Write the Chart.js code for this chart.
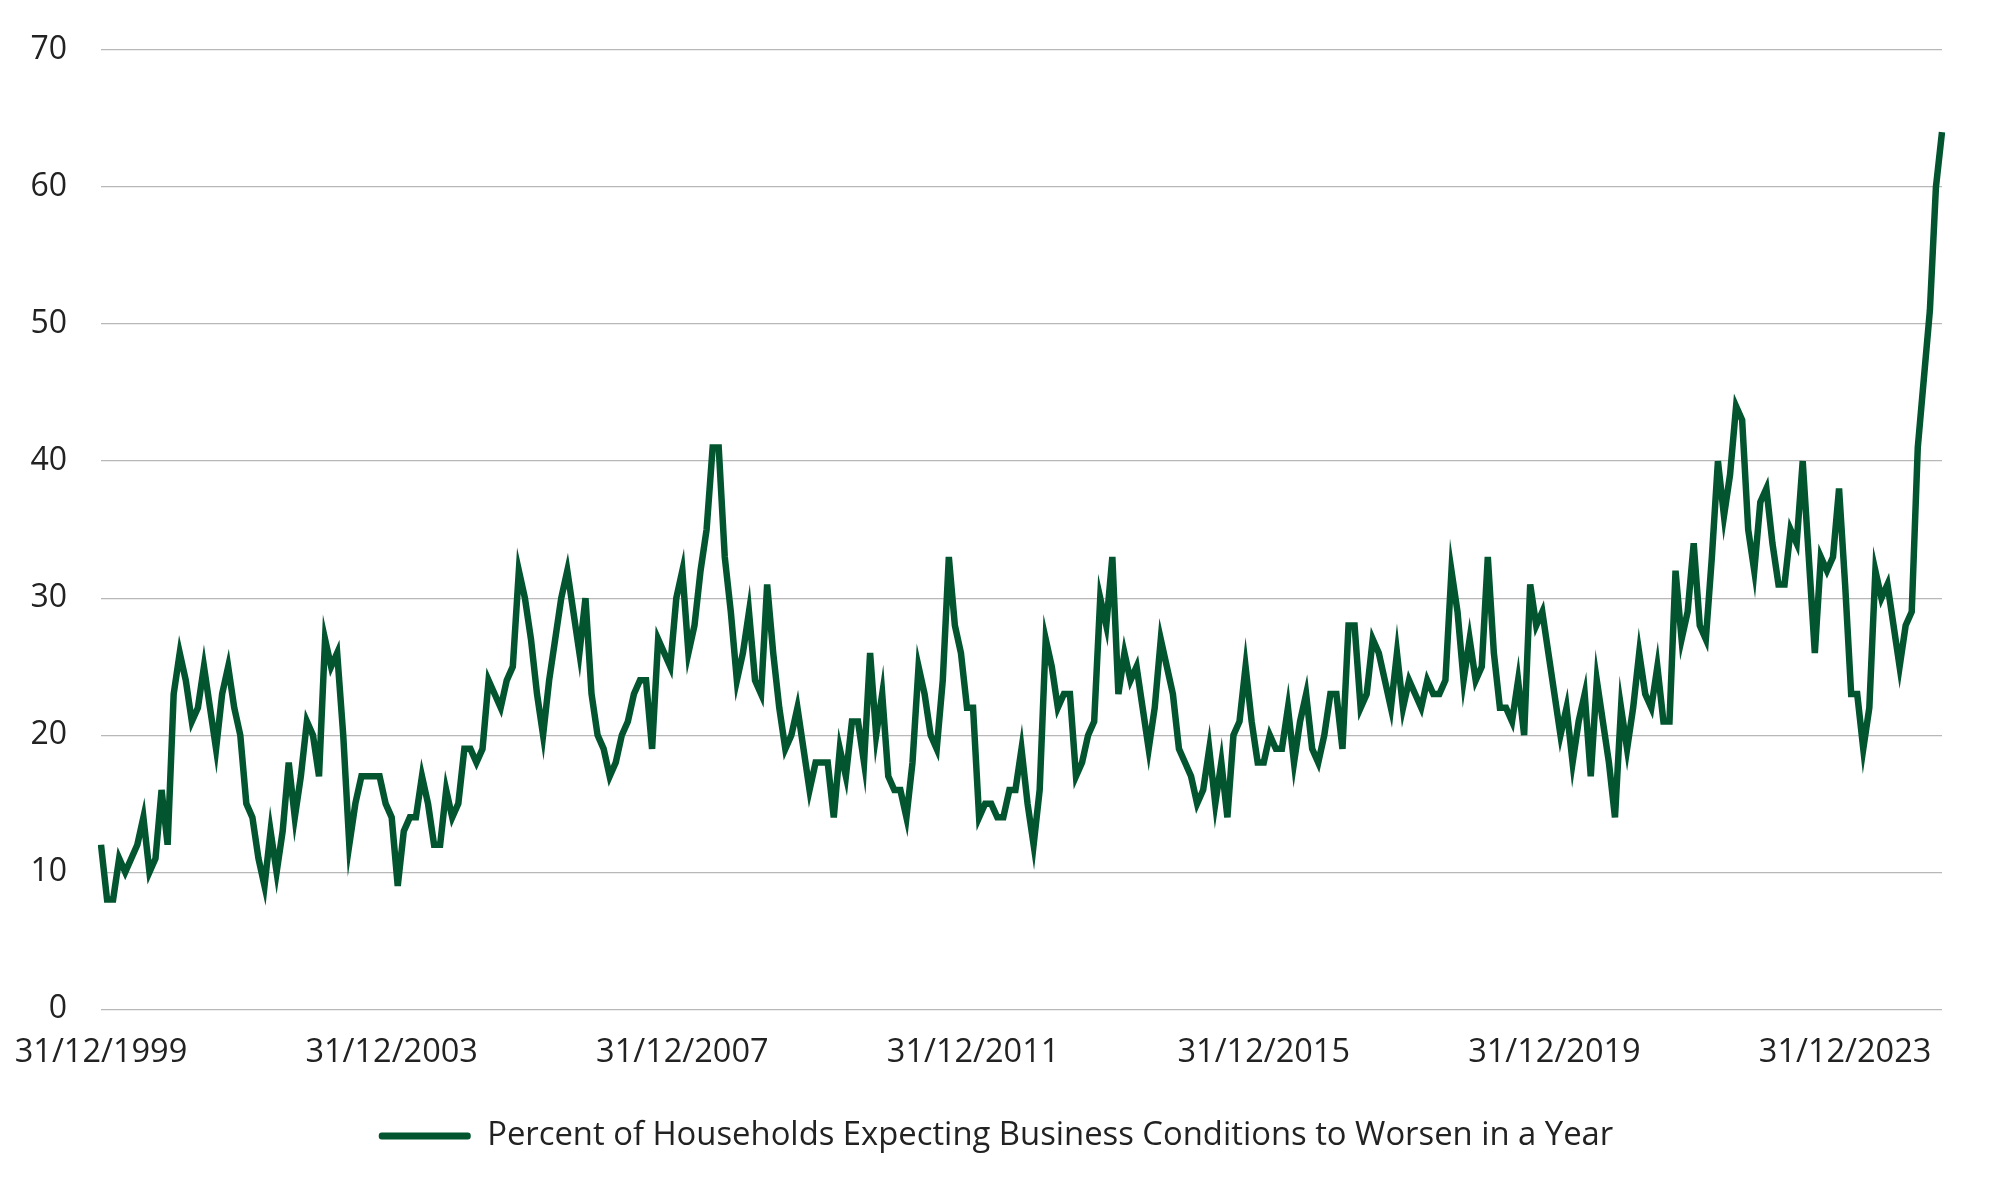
<!DOCTYPE html>
<html>
<head>
<meta charset="utf-8">
<title>Households expecting business conditions to worsen</title>
<script src="https://cdn.jsdelivr.net/npm/chart.js@4.4.1/dist/chart.umd.min.js"></script>
<style>
  html, body { margin: 0; padding: 0; background: #ffffff; }
  #wrap { width: 1992px; height: 1199px; }
</style>
</head>
<body>
<div id="wrap"><canvas id="chart"></canvas></div>
<script>
const seriesName = "Percent of Households Expecting Business Conditions to Worsen in a Year"

// monthly, month-end dates starting 31/12/1999
const startYear = 1999
const startMonth = 11

const worsen = [
  12,
  8, 8, 11, 10, 11, 12, 14, 10, 11, 16, 12, 23,
  26, 24, 21, 22, 25, 22, 19, 23, 25, 22, 20, 15,
  14, 11, 9, 13, 10, 13, 18, 14, 17, 21, 20, 17,
  27, 25, 26, 20, 12, 15, 17, 17, 17, 17, 15, 14,
  9, 13, 14, 14, 17, 15, 12, 12, 16, 14, 15, 19,
  19, 18, 19, 24, 23, 22, 24, 25, 32, 30, 27, 23,
  20, 24, 27, 30, 32, 29, 26, 30, 23, 20, 19, 17,
  18, 20, 21, 23, 24, 24, 19, 27, 26, 25, 30, 32,
  26, 28, 32, 35, 41, 41, 33, 29, 24, 26, 29, 24,
  23, 31, 26, 22, 19, 20, 22, 19, 16, 18, 18, 18,
  14, 19, 17, 21, 21, 18, 26, 20, 23, 17, 16, 16,
  14, 18, 25, 23, 20, 19, 24, 33, 28, 26, 22, 22,
  14, 15, 15, 14, 14, 16, 16, 19, 15, 12, 16, 27,
  25, 22, 23, 23, 17, 18, 20, 21, 30, 28, 33, 23,
  26, 24, 25, 22, 19, 22, 27, 25, 23, 19, 18, 17,
  15, 16, 19, 15, 18, 14, 20, 21, 25, 21, 18, 18,
  20, 19, 19, 22, 18, 21, 23, 19, 18, 20, 23, 23,
  19, 28, 28, 22, 23, 27, 26, 24, 22, 26, 22, 24,
  23, 22, 24, 23, 23, 24, 32, 29, 24, 27, 24, 25,
  33, 26, 22, 22, 21, 24, 20, 31, 28, 29, 26, 23,
  20, 22, 18, 21, 23, 17, 24, 21, 18, 14, 22, 19,
  22, 26, 23, 22, 25, 21, 21, 32, 27, 29, 34, 28,
  27, 33, 40, 36, 39, 44, 43, 35, 32, 37, 38, 34,
  31, 31, 35, 34, 40, 33, 26, 33, 32, 33, 38, 31,
  23, 23, 19, 22, 32, 30, 31, 28, 25, 28, 29, 41,
  46, 51, 60, 64
]

const tickLabels = ["31/12/1999", "31/12/2003", "31/12/2007", "31/12/2011", "31/12/2015", "31/12/2019", "31/12/2023"]

const yMin = 0
const yMax = 70
const yStep = 10

const pad2 = function (n) { return (n < 10 ? "0" : "") + n }

const months = worsen.map(function (v, i) {
     const d = new Date(startYear, startMonth + i + 1, 0)
     return pad2(d.getDate()) + "/" + pad2(d.getMonth() + 1) + "/" + d.getFullYear()
})

const green = "#02552f"
const textColor = "#222222"
const family = "'Open Sans', 'Noto Sans', sans-serif"

const canvas = document.getElementById("chart")

new Chart(canvas, {
     type: "line",
     data: {
          labels: months,
          datasets: [{
               label: seriesName,
               data: worsen,
               borderColor: green,
               backgroundColor: green,
               borderWidth: 6.5,
               pointRadius: 0,
               tension: 0,
               fill: false
          }]
     },
     options: {
          responsive: true,
          maintainAspectRatio: false,
          animation: false,
          layout: { padding: { top: 50, right: 0, left: 0, bottom: 36.5 } },
          plugins: {
               tooltip: { enabled: false },
               legend: {
                    position: "bottom",
                    labels: {
                         color: textColor,
                         font: { family: family, size: 32.8 },
                         boxWidth: 92,
                         boxHeight: 7,
                         padding: 23.5,
                         useBorderRadius: true,
                         borderRadius: 3,
                         generateLabels: function (chart) {
                              const items = Chart.defaults.plugins.legend.labels.generateLabels(chart)
                              items.forEach(function (it) {
                                   it.lineWidth = 0
                                   it.fillStyle = green
                              })
                              return items
                         }
                    }
               }
          },
          scales: {
               x: {
                    grid: { display: false, drawTicks: false },
                    border: { display: false },
                    afterFit: function (scale) {
                         scale.paddingLeft = 0
                         scale.paddingRight = 50
                    },
                    ticks: {
                         autoSkip: false,
                         maxRotation: 0,
                         padding: 24,
                         color: textColor,
                         font: { family: family, size: 32.5 },
                         callback: function (val, i) {
                              const l = months[i]
                              return tickLabels.includes(l) ? l : null
                         }
                    }
               },
               y: {
                    min: yMin,
                    max: yMax,
                    afterFit: function (scale) {
                         scale.width = 101
                         scale.paddingTop = 0
                         scale.paddingBottom = 0
                    },
                    grid: { color: "#b8b8b8", lineWidth: 1.2, drawTicks: false },
                    border: { display: false },
                    ticks: {
                         stepSize: yStep,
                         padding: 34,
                         color: textColor,
                         font: { family: family, size: 32 }
                    }
               }
          }
     }
})
</script>
</body>
</html>
